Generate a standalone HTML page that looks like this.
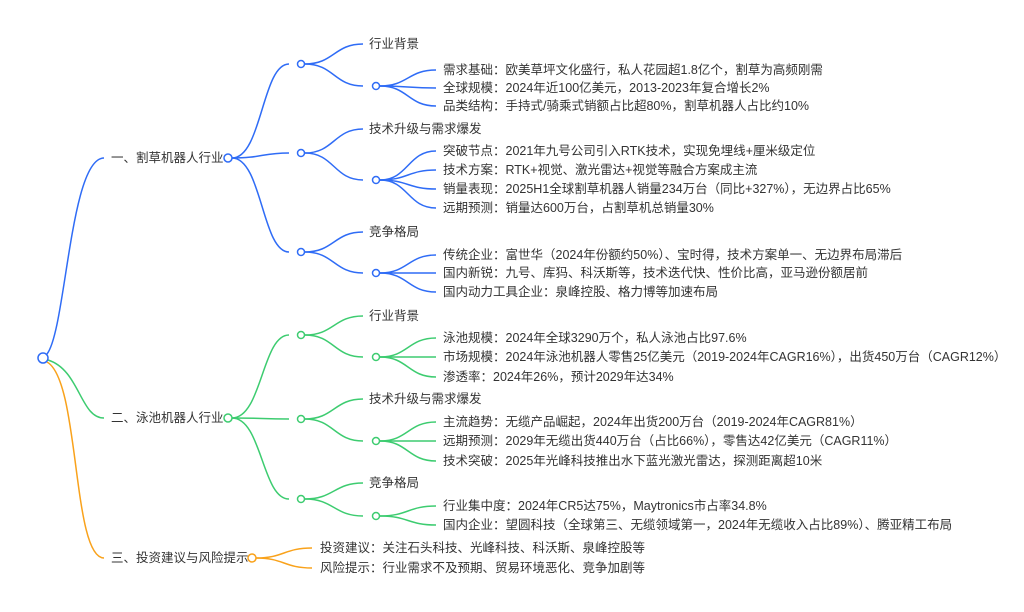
<!DOCTYPE html>
<html><head><meta charset="utf-8"><style>
html,body{margin:0;padding:0;background:#fff;}
svg{display:block;}
text{font-family:"Liberation Sans","Noto Sans CJK SC",sans-serif;font-size:12.5px;fill:#333;dominant-baseline:central;}
.b{stroke:#2f6cf6;fill:none;stroke-width:1.5}
.g{stroke:#3dcc70;fill:none;stroke-width:1.5}
.o{stroke:#f9a21b;fill:none;stroke-width:1.5}
circle{fill:#fff;stroke-width:1.5}
</style></head><body>
<svg width="1024" height="612" viewBox="0 0 1024 612" xmlns="http://www.w3.org/2000/svg">
<!-- root branches -->
<path class="b" d="M47 354 C66 330,70 158,104 158"/>
<path class="g" d="M48 360 C80 370,80 418,104 418"/>
<path class="o" d="M47 362 C80 380,72 558,104 558"/>

<!-- Section 1 -->
<path class="b" d="M232 158 C262 158,262 64,289 64"/>
<path class="b" d="M232 158 C262 158,262 153,289 153"/>
<path class="b" d="M232 158 C262 158,262 252,289 252"/>
<path class="b" d="M305 64 C334 64,334 44,363 44"/>
<path class="b" d="M305 64 C334 64,334 86,363 86"/>
<path class="b" d="M380 86 C408 86,408 70,436 70"/>
<path class="b" d="M380 86 C408 86,408 88,436 88"/>
<path class="b" d="M380 86 C408 86,408 106,436 106"/>
<path class="b" d="M305 153 C334 153,334 129,363 129"/>
<path class="b" d="M305 153 C334 153,334 180,363 180"/>
<path class="b" d="M380 180 C408 180,408 151,436 151"/>
<path class="b" d="M380 180 C408 180,408 170,436 170"/>
<path class="b" d="M380 180 C408 180,408 189,436 189"/>
<path class="b" d="M380 180 C408 180,408 208,436 208"/>
<path class="b" d="M305 252 C334 252,334 232,363 232"/>
<path class="b" d="M305 252 C334 252,334 273,363 273"/>
<path class="b" d="M380 273 C408 273,408 255,436 255"/>
<path class="b" d="M380 273 C408 273,408 273,436 273"/>
<path class="b" d="M380 273 C408 273,408 292,436 292"/>

<!-- Section 2 -->
<path class="g" d="M232 418 C262 418,262 335,289 335"/>
<path class="g" d="M232 418 C262 418,262 419,289 419"/>
<path class="g" d="M232 418 C262 418,262 499,289 499"/>
<path class="g" d="M305 335 C334 335,334 316,363 316"/>
<path class="g" d="M305 335 C334 335,334 357,363 357"/>
<path class="g" d="M380 357 C408 357,408 338,436 338"/>
<path class="g" d="M380 357 C408 357,408 357,436 357"/>
<path class="g" d="M380 357 C408 357,408 377,436 377"/>
<path class="g" d="M305 419 C334 419,334 399,363 399"/>
<path class="g" d="M305 419 C334 419,334 441,363 441"/>
<path class="g" d="M380 441 C408 441,408 422,436 422"/>
<path class="g" d="M380 441 C408 441,408 441,436 441"/>
<path class="g" d="M380 441 C408 441,408 461,436 461"/>
<path class="g" d="M305 499 C334 499,334 483,363 483"/>
<path class="g" d="M305 499 C334 499,334 516,363 516"/>
<path class="g" d="M380 516 C408 516,408 506,436 506"/>
<path class="g" d="M380 516 C408 516,408 525,436 525"/>

<!-- Section 3 -->
<path class="o" d="M256 558 C284 558,284 548,312 548"/>
<path class="o" d="M256 558 C284 558,284 568,312 568"/>

<!-- circles -->
<circle cx="43" cy="358" r="5" stroke="#2f6cf6"/>
<circle cx="228" cy="158" r="4" stroke="#2f6cf6"/>
<circle cx="301" cy="64" r="3.5" stroke="#2f6cf6"/>
<circle cx="301" cy="153" r="3.5" stroke="#2f6cf6"/>
<circle cx="301" cy="252" r="3.5" stroke="#2f6cf6"/>
<circle cx="376" cy="86" r="3.5" stroke="#2f6cf6"/>
<circle cx="376" cy="180" r="3.5" stroke="#2f6cf6"/>
<circle cx="376" cy="273" r="3.5" stroke="#2f6cf6"/>
<circle cx="228" cy="418" r="4" stroke="#3dcc70"/>
<circle cx="301" cy="335" r="3.5" stroke="#3dcc70"/>
<circle cx="301" cy="419" r="3.5" stroke="#3dcc70"/>
<circle cx="301" cy="499" r="3.5" stroke="#3dcc70"/>
<circle cx="376" cy="357" r="3.5" stroke="#3dcc70"/>
<circle cx="376" cy="441" r="3.5" stroke="#3dcc70"/>
<circle cx="376" cy="516" r="3.5" stroke="#3dcc70"/>
<circle cx="252" cy="558" r="4" stroke="#f9a21b"/>

<!-- labels -->
<text x="111" y="158">一、割草机器人行业</text>
<text x="111" y="418">二、泳池机器人行业</text>
<text x="111" y="558">三、投资建议与风险提示</text>

<text x="369" y="44">行业背景</text>
<text x="369" y="129">技术升级与需求爆发</text>
<text x="369" y="232">竞争格局</text>
<text x="369" y="316">行业背景</text>
<text x="369" y="399">技术升级与需求爆发</text>
<text x="369" y="483">竞争格局</text>

<text x="443" y="70">需求基础：欧美草坪文化盛行，私人花园超1.8亿个，割草为高频刚需</text>
<text x="443" y="88">全球规模：2024年近100亿美元，2013-2023年复合增长2%</text>
<text x="443" y="106">品类结构：手持式/骑乘式销额占比超80%，割草机器人占比约10%</text>
<text x="443" y="151">突破节点：2021年九号公司引入RTK技术，实现免埋线+厘米级定位</text>
<text x="443" y="170">技术方案：RTK+视觉、激光雷达+视觉等融合方案成主流</text>
<text x="443" y="189">销量表现：2025H1全球割草机器人销量234万台（同比+327%），无边界占比65%</text>
<text x="443" y="208">远期预测：销量达600万台，占割草机总销量30%</text>
<text x="443" y="255">传统企业：富世华（2024年份额约50%）、宝时得，技术方案单一、无边界布局滞后</text>
<text x="443" y="273">国内新锐：九号、库犸、科沃斯等，技术迭代快、性价比高，亚马逊份额居前</text>
<text x="443" y="292">国内动力工具企业：泉峰控股、格力博等加速布局</text>

<text x="443" y="338">泳池规模：2024年全球3290万个，私人泳池占比97.6%</text>
<text x="443" y="357">市场规模：2024年泳池机器人零售25亿美元（2019-2024年CAGR16%），出货450万台（CAGR12%）</text>
<text x="443" y="377">渗透率：2024年26%，预计2029年达34%</text>
<text x="443" y="422">主流趋势：无缆产品崛起，2024年出货200万台（2019-2024年CAGR81%）</text>
<text x="443" y="441">远期预测：2029年无缆出货440万台（占比66%），零售达42亿美元（CAGR11%）</text>
<text x="443" y="461">技术突破：2025年光峰科技推出水下蓝光激光雷达，探测距离超10米</text>
<text x="443" y="506">行业集中度：2024年CR5达75%，Maytronics市占率34.8%</text>
<text x="443" y="525">国内企业：望圆科技（全球第三、无缆领域第一，2024年无缆收入占比89%）、腾亚精工布局</text>

<text x="320" y="548">投资建议：关注石头科技、光峰科技、科沃斯、泉峰控股等</text>
<text x="320" y="568">风险提示：行业需求不及预期、贸易环境恶化、竞争加剧等</text>
</svg>
</body></html>
